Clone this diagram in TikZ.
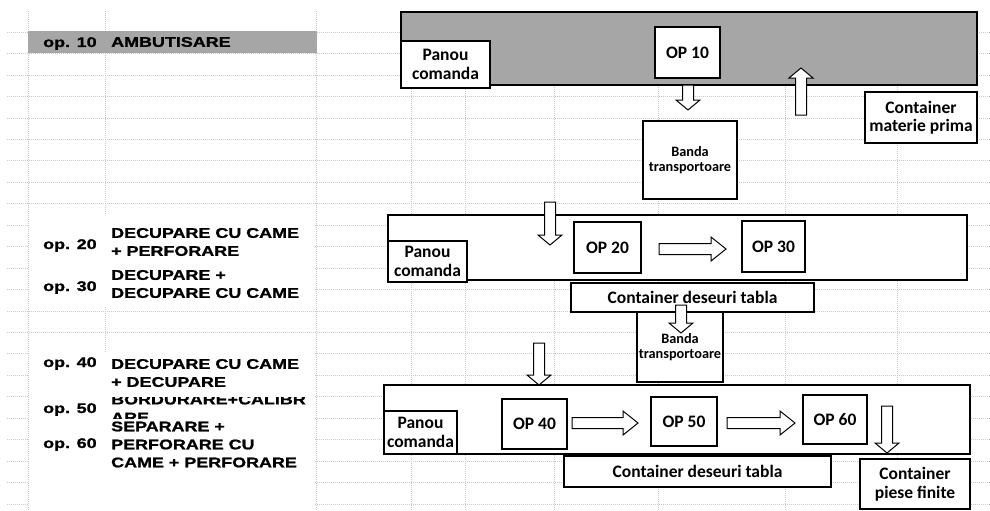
\documentclass[tikz,border=0pt]{standalone}
\usepackage{fontspec}
\setmainfont{Carlito}
\newfontfamily\calibri{Carlito}
\newfontfamily\arialb[FakeStretch=1.28,FakeBold=1.2]{Liberation Sans}
\usetikzlibrary{calc}

\definecolor{gri}{HTML}{A6A6A6}
\definecolor{gricelule}{HTML}{C8C8C8}

\tikzset{
  cutie/.style={draw, line width=1.2pt, fill=white, inner sep=0pt, align=center,
    font=\calibri\bfseries\fontsize{17.5}{18.5}\selectfont},
  banda/.style={cutie, font=\calibri\bfseries\fontsize{14.3}{15.5}\selectfont},
  eticheta/.style={inner sep=0pt, align=left, font=\arialb\bfseries\fontsize{14}{18}\selectfont},
  bloc/.style={draw, line width=1pt, fill=white, line join=miter},
  liniegrila/.style={gricelule, line width=.6pt, dash pattern=on .8pt off 1.2pt}
}

% sageti goale (in jos, in sus, la dreapta)
\newcommand{\sagJos}[2]{%
  \draw[bloc] let \p1=(#1), \p2=(#2) in
    ({\x1-5.5pt},\y1) -- ({\x1-5.5pt},{\y2+10pt}) -- ({\x1-12pt},{\y2+10pt}) -- (\x1,\y2)
    -- ({\x1+12pt},{\y2+10pt}) -- ({\x1+5.5pt},{\y2+10pt}) -- ({\x1+5.5pt},\y1) -- cycle;}
\newcommand{\sagSus}[2]{%
  \draw[bloc] let \p1=(#1), \p2=(#2) in
    ({\x1-5.5pt},\y1) -- ({\x1-5.5pt},{\y2-10pt}) -- ({\x1-12pt},{\y2-10pt}) -- (\x1,\y2)
    -- ({\x1+12pt},{\y2-10pt}) -- ({\x1+5.5pt},{\y2-10pt}) -- ({\x1+5.5pt},\y1) -- cycle;}
\newcommand{\sagDreapta}[2]{%
  \draw[bloc] let \p1=(#1), \p2=(#2) in
    (\x1,{\y1+5.5pt}) -- ({\x2-15pt},{\y1+5.5pt}) -- ({\x2-15pt},{\y1+12pt}) -- (\x2,\y1)
    -- ({\x2-15pt},{\y1-12pt}) -- ({\x2-15pt},{\y1-5.5pt}) -- (\x1,{\y1-5.5pt}) -- cycle;}

\begin{document}
\begin{tikzpicture}[x=1pt, y=-1pt]
    \useasboundingbox (0,0) rectangle (990,511);
    \fill[white] (0,0) rectangle (990,511);

    % grila foii de calcul
    \foreach \x in {28,105,316,411,465,554,658,785,897}
        \draw[liniegrila] (\x,11) -- (\x,511);
    \foreach \k in {0,...,22}
        \draw[liniegrila] (7,{32+21.45*\k}) -- (990,{32+21.45*\k});
    \fill[white] (29,214) rectangle (315,305.5);
    \fill[white] (29,352) rectangle (315,511);

    % lista operatiilor
    \node[fill=gri, minimum width=289, minimum height=22, inner sep=0pt] (bara10) at (172.5,42) {};
    \node[eticheta, anchor=base west] (nr10) at (43,47) {op. 10};
    \node[eticheta, anchor=west] (desc10) at (111,42) {AMBUTISARE};

    \node[eticheta, anchor=base west] (nr20) at (43,249) {op. 20};
    \node[eticheta, anchor=west] (desc20) at (111,242) {DECUPARE CU CAME\\+ PERFORARE};

    \node[eticheta, anchor=base west] (nr30) at (43,291) {op. 30};
    \node[eticheta, anchor=west] (desc30) at (111,284) {DECUPARE +\\DECUPARE CU CAME};

    \node[eticheta, anchor=base west] (nr40) at (43,367) {op. 40};
    \node[eticheta, anchor=west] (desc40) at (111,373) {DECUPARE CU CAME\\+ DECUPARE};

    \node[eticheta, anchor=base west] (nr50) at (43,413) {op. 50};
    \begin{scope}
        \clip (105,397) rectangle (316,418.5);
        \node[eticheta, anchor=west] (desc50) at (111,408.5) {BORDURARE+CALIBR\\ARE};
    \end{scope}

    \node[eticheta, anchor=base west] (nr60) at (43,448) {op. 60};
    \node[eticheta, anchor=west] (desc60) at (111,444.5) {SEPARARE +\\PERFORARE CU\\CAME + PERFORARE};

    % zona op. 10
    \node[cutie, fill=gri, minimum width=576, minimum height=73] (zona10) at (689,48.5) {};
    \node[cutie, minimum width=89, minimum height=47] (panou1) at (445.5,64.5) {Panou\\comanda};
    \node[cutie, minimum width=65, minimum height=51] (op10) at (687.5,52.5) {OP 10};
    \coordinate (s1a) at (688,85);  \coordinate (s1b) at (688,110);
    \sagJos{s1a}{s1b}
    \coordinate (s2a) at (801,115); \coordinate (s2b) at (801,68);
    \sagSus{s2a}{s2b}
    \node[cutie, minimum width=112, minimum height=51] (materie) at (921,117.5) {Container\\materie prima};
    \node[banda, minimum width=94, minimum height=78] (banda1) at (690,160) {Banda\\transportoare};

    % zona op. 20 - op. 30
    \node[cutie, minimum width=579, minimum height=65] (zona20) at (677.5,247.5) {};
    \node[cutie, minimum width=79, minimum height=41] (panou2) at (427.5,261.5) {Panou\\comanda};
    \coordinate (s3a) at (550,202); \coordinate (s3b) at (550,245);
    \sagJos{s3a}{s3b}
    \node[cutie, minimum width=67, minimum height=51] (op20) at (607.5,247.5) {OP 20};
    \node[cutie, minimum width=63, minimum height=51] (op30) at (773.5,246.5) {OP 30};
    \coordinate (s4a) at (659,249); \coordinate (s4b) at (726,249);
    \sagDreapta{s4a}{s4b}
    \node[banda, minimum width=86, minimum height=70] (banda2) at (680,347) {Banda\\transportoare};
    \node[cutie, minimum width=243, minimum height=29] (deseuri1) at (692.5,297.5) {Container deseuri tabla};
    \coordinate (s5a) at (681,305); \coordinate (s5b) at (681,333);
    \sagJos{s5a}{s5b}

    % zona op. 40 - op. 60
    \node[cutie, minimum width=586, minimum height=69] (zona40) at (677,419.5) {};
    \coordinate (s6a) at (539,343); \coordinate (s6b) at (539,385);
    \sagJos{s6a}{s6b}
    \node[cutie, minimum width=73, minimum height=43] (panou3) at (420.5,432.5) {Panou\\comanda};
    \node[cutie, minimum width=65, minimum height=50] (op40) at (534.5,424) {OP 40};
    \node[cutie, minimum width=66, minimum height=49] (op50) at (684,421.5) {OP 50};
    \node[cutie, minimum width=64, minimum height=49] (op60) at (835,419.5) {OP 60};
    \coordinate (s7a) at (572,423); \coordinate (s7b) at (638,423);
    \sagDreapta{s7a}{s7b}
    \coordinate (s8a) at (727,423); \coordinate (s8b) at (795,423);
    \sagDreapta{s8a}{s8b}
    \coordinate (s9a) at (887,406); \coordinate (s9b) at (887,453);
    \sagJos{s9a}{s9b}
    \node[cutie, minimum width=267, minimum height=31] (deseuri2) at (697.5,471.5) {Container deseuri tabla};
    \node[cutie, minimum width=110, minimum height=50] (piese) at (915,484) {Container\\piese finite};

\end{tikzpicture}
\end{document}
